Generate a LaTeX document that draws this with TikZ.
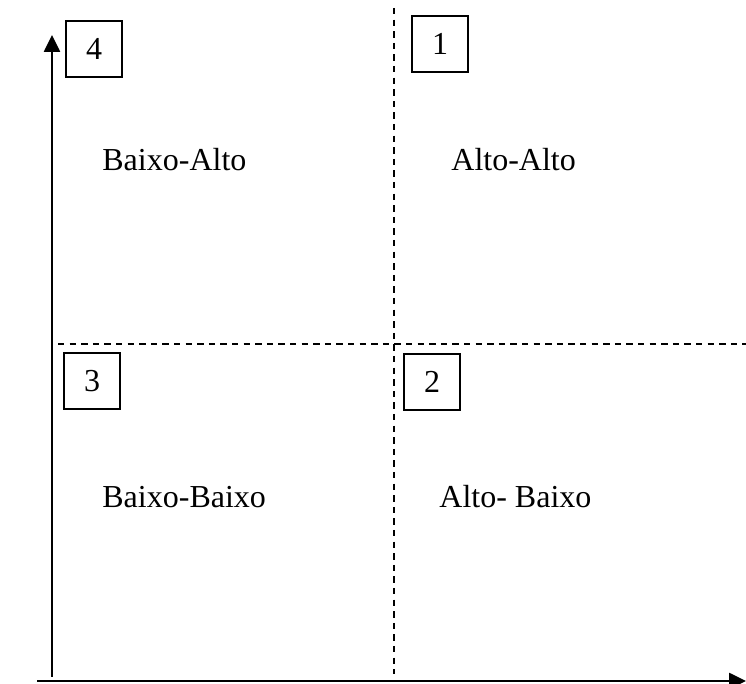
\documentclass[tikz,border=0pt]{standalone}
\usepackage{fontspec}
\setmainfont{Liberation Serif}
\usetikzlibrary{arrows.meta,positioning}

\begin{document}
\begin{tikzpicture}[
  x=0.5pt, y=-0.5pt,
  every node/.style={font=\fontsize{16}{19}\selectfont},
  numbox/.style={rectangle, draw=black, line width=0.9pt, inner sep=0pt,
                 minimum width=28pt, minimum height=28pt},
  quad/.style={anchor=west, inner sep=0pt},
  axis/.style={-{Triangle[length=8.5pt,width=8pt]}, line width=1.3pt},
  split/.style={dashed, dash pattern=on 3.2pt off 2.6pt, line width=0.9pt},
]
\useasboundingbox (0,0) rectangle (746,684);
% axes
\coordinate (orig)  at (52,677);
\coordinate (ytop)  at (52,35);
\coordinate (xleft) at (37,681);
\coordinate (xend)  at (746,681);
\draw[axis] (orig) -- (ytop);
\draw[axis] (xleft) -- (xend);
% quadrant borders
\coordinate (vtop) at (394,8);
\coordinate (vbot) at (394,674);
\coordinate (hl)   at (58,344);
\coordinate (hr)   at (746,344);
\draw[split] (vtop) -- (vbot);
\draw[split] (hl) -- (hr);
% quadrant numbers
\node[numbox] (n4) at (94,49)    {4};
\node[numbox] (n1) at (440,44)   {1};
\node[numbox] (n3) at (92,381)   {3};
\node[numbox] (n2) at (432,382)  {2};
% quadrant labels
\node[quad] (ba) at (102,160) {Baixo-Alto};
\node[quad] (aa) at (451,160) {Alto-Alto};
\node[quad] (bb) at (102,497) {Baixo-Baixo};
\node[quad] (ab) at (439,497) {Alto- Baixo};
\end{tikzpicture}
\end{document}
